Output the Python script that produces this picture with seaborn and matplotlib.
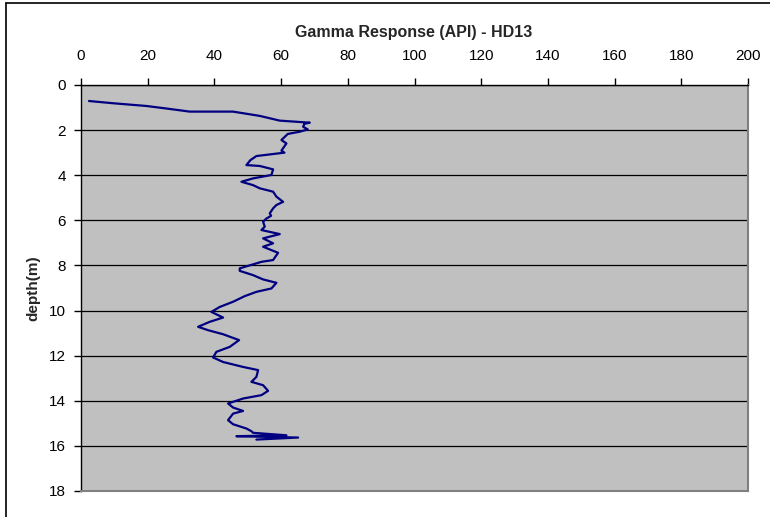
import matplotlib
matplotlib.use("Agg")
import matplotlib.pyplot as plt
import seaborn as sns
import pandas as pd
from matplotlib.lines import Line2D

depth = [0.71, 0.81, 0.93, 1.05, 1.18, 1.18, 1.37, 1.58, 1.67, 1.72, 1.85, 1.97, 2.07, 2.17,
         2.44, 2.59, 2.91, 3.0, 3.06, 3.15, 3.33, 3.55, 3.59, 3.74, 3.99, 4.14, 4.29, 4.44,
         4.58, 4.73, 4.95, 5.18, 5.32, 5.47, 5.69, 5.8, 5.92, 6.06, 6.28, 6.43, 6.61, 6.8,
         7.02, 7.17, 7.44, 7.76, 7.84, 8.13, 8.24, 8.43, 8.62, 8.77, 9.02, 9.17, 9.36, 9.61,
         9.84, 10.06, 10.31, 10.5, 10.72, 10.87, 11.05, 11.31, 11.61, 11.83, 12.08, 12.28,
         12.5, 12.64, 12.94, 13.16, 13.31, 13.56, 13.75, 13.9, 14.12, 14.3, 14.45, 14.57,
         14.86, 15.04, 15.23, 15.35, 15.42, 15.53, 15.57, 15.63, 15.72]
gamma = [2.4, 9.7, 19.6, 26.0, 32.6, 45.6, 53.6, 59.6, 68.6, 67.0, 66.6, 68.0, 65.6, 62.0,
         60.1, 61.6, 60.1, 61.0, 57.6, 52.6, 50.8, 49.6, 53.6, 57.6, 57.1, 51.6, 48.1, 51.6,
         53.6, 57.6, 58.6, 60.6, 58.6, 57.6, 56.6, 57.0, 55.6, 54.6, 55.1, 54.1, 59.6, 54.6,
         57.6, 54.6, 59.1, 57.6, 54.1, 47.6, 47.6, 51.6, 54.6, 58.6, 57.1, 52.6, 49.1, 45.6,
         41.6, 39.1, 42.6, 38.6, 35.1, 38.1, 42.6, 47.4, 44.6, 40.6, 39.6, 42.6,
         48.6, 53.1, 52.6, 51.1, 54.6, 56.1, 54.1, 48.6, 44.1, 45.6, 48.6, 45.6,
         44.1, 45.6, 49.6, 51.1, 51.6, 61.6, 46.6, 65.1, 52.6]

x_ticks = list(range(0, 201, 20))
y_ticks = list(range(0, 19, 2))

sns.set_style("ticks")
plt.rcParams['font.family'] = ['Liberation Sans', 'DejaVu Sans']

df = pd.DataFrame({"gamma": gamma, "depth": depth})

fig = plt.figure(figsize=(7.7, 5.17), dpi=100)
ax = fig.add_axes([81/770, 1-491/517, (748-81)/770, (491-85)/517])
ax.set_facecolor("#C0C0C0")

sns.lineplot(data=df, x="gamma", y="depth", sort=False, estimator=None,
             color="#000080", lw=1.6, ax=ax)

ax.set_xlim(0, 200)
ax.set_ylim(18, 0)
ax.set_xticks(x_ticks)
ax.set_yticks(y_ticks)
ax.xaxis.tick_top()
ax.tick_params(axis='x', direction='out', length=5, width=1, pad=11, labelsize=11, colors='black')
ax.tick_params(axis='y', direction='out', length=5, width=1, pad=6, labelsize=11, colors='black')
ax.yaxis.grid(True, color='black', lw=0.9)
ax.xaxis.grid(False)
ax.set_axisbelow(True)
ax.set_xlabel("")
ax.set_ylabel("depth(m)", fontsize=11, fontweight='bold', labelpad=6)

for s in ['left', 'top']:
    ax.spines[s].set_color('black')
    ax.spines[s].set_linewidth(1.0)
for s in ['right', 'bottom']:
    ax.spines[s].set_visible(True)
    ax.spines[s].set_color('#808080')
    ax.spines[s].set_linewidth(1.5)

fig.text(414/770, 1-32/517, "Gamma Response (API) - HD13", ha='center', va='center',
         fontsize=11.5, fontweight='bold')

fig.add_artist(Line2D([6/770, 6/770], [0, 1-3/517], transform=fig.transFigure, color='black', lw=1.2))
fig.add_artist(Line2D([6/770, 1], [1-3/517, 1-3/517], transform=fig.transFigure, color='black', lw=1.2))

fig.savefig("out.png", dpi=100)
